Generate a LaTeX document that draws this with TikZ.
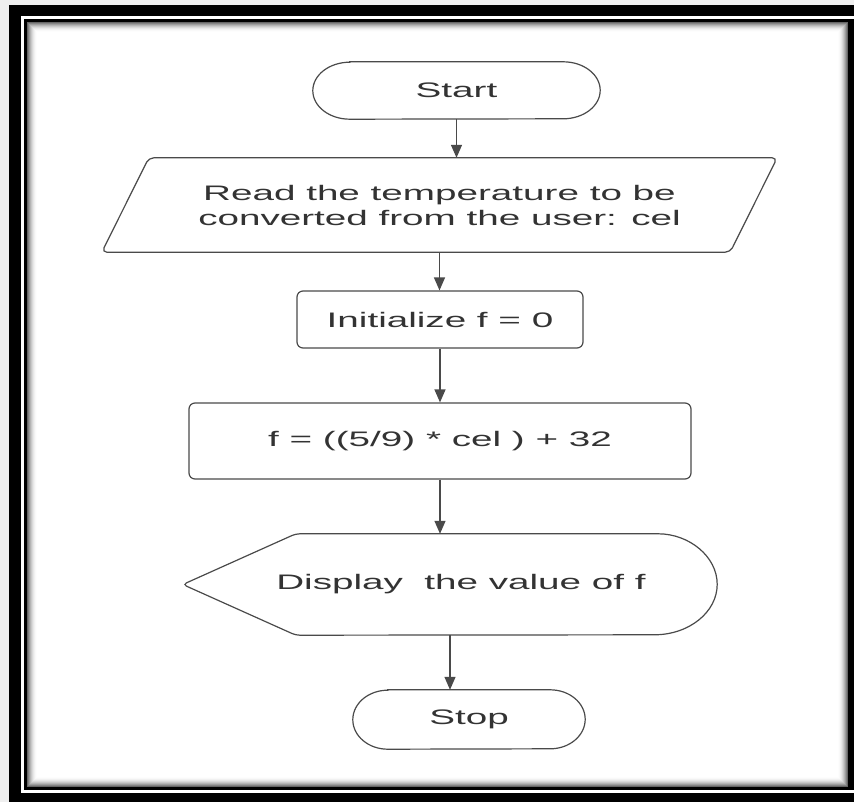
\documentclass[tikz,border=0pt]{standalone}
\usepackage{fontspec}
\setmainfont{Liberation Sans}
\newfontfamily\chartfont[FakeStretch=1.84]{Liberation Sans}
\usetikzlibrary{arrows.meta}
\definecolor{ink}{HTML}{333333}
\definecolor{edge}{HTML}{4A4A4A}
\definecolor{paper}{HTML}{EFEFEF}
\pgfdeclarelayer{frame}
\pgfdeclarelayer{shapes}
\pgfsetlayers{frame,shapes,main}

\begin{document}
\begin{tikzpicture}[x=1pt,y=-1pt,
  lbl/.style={font=\chartfont\fontsize{21}{25}\selectfont, text=ink, align=center},
  slot/.style={lbl, draw=none, inner sep=0pt, minimum width=#1},
  outline/.style={draw=edge, line width=1.2pt, fill=white},
  procbox/.style={lbl, outline, rounded corners=6pt, inner sep=0pt, minimum width=#1},
  flow/.style={draw=edge, line width=1.3pt, -{Triangle[width=11pt,length=13pt]}}]

\useasboundingbox (0,0) rectangle (854,802);

% page frame: thick black band, white gap, thin black rule
\begin{pgfonlayer}{frame}
\fill[paper] (0,0) rectangle (854,802);
\fill[black] (9,5) rectangle (860,808);
\fill[white] (21,16) rectangle (860,793);
\fill[black] (24,19) rectangle (854,790);
\fill[white] (27,22) rectangle (848,787);
% soft inner shadow
\foreach \i in {0,...,9}{
  \pgfmathsetmacro\shade{60*(1-\i/10)*(1-\i/10)}
  \draw[line width=1pt, draw=black!\shade] (27.5+\i,22.5+\i) rectangle (847.5-\i,786.5-\i);
}
\end{pgfonlayer}

% flowchart steps; the outlines of the special shapes go on the layer below
\node[slot=287, minimum height=57] (start) at (456.5,90.5) {Start};
\node[slot=675, minimum height=94] (read) at (439.5,205)
  {Read the temperature to be\\converted from the user: cel};
\node[procbox=286, minimum height=57] (init) at (440,319.5) {Initialize f = 0};
\node[procbox=502, minimum height=76] (calc) at (440,441) {f = ((5/9) * cel ) + 32};
\node[slot=534, minimum height=101] (show) at (450,584.5)
  {\hspace*{22pt}Display\ \ the value of f};
\node[slot=232, minimum height=59] (stop) at (469,719.5) {Stop};

\begin{pgfonlayer}{shapes}
% terminals with elliptic ends
\draw[outline] ([xshift=37pt]start.north west) -- ([xshift=-37pt]start.north east)
  arc[start angle=90, end angle=-90, x radius=37pt, y radius=28.5pt]
  -- ([xshift=37pt]start.south west)
  arc[start angle=270, end angle=90, x radius=37pt, y radius=28.5pt] -- cycle;
\draw[outline] ([xshift=35pt]stop.north west) -- ([xshift=-35pt]stop.north east)
  arc[start angle=90, end angle=-90, x radius=35pt, y radius=29.5pt]
  -- ([xshift=35pt]stop.south west)
  arc[start angle=270, end angle=90, x radius=35pt, y radius=29.5pt] -- cycle;
% input parallelogram
\draw[outline, rounded corners=5pt] ([xshift=47pt]read.north west) -- (read.north east)
  -- ([xshift=-47pt]read.south east) -- (read.south west) -- cycle;
% display shape: pointed left end, rounded right end
\draw[outline, rounded corners=4pt] (show.west) -- ([xshift=113pt]show.north west)
  -- ([xshift=-63pt]show.north east) [sharp corners]
  arc[start angle=90, end angle=-90, x radius=63pt, y radius=50.5pt]
  [rounded corners=4pt] -- ([xshift=113pt]show.south west) -- cycle;
\end{pgfonlayer}

% connectors
\draw[flow] (start.south) -- (start.south |- read.north);
\draw[flow] (read.south) -- (read.south |- init.north);
\draw[flow] (init.south) -- (init.south |- calc.north);
\draw[flow] (calc.south) -- (calc.south |- show.north);
\draw[flow] (show.south) -- (show.south |- stop.north);
\end{tikzpicture}
\end{document}
